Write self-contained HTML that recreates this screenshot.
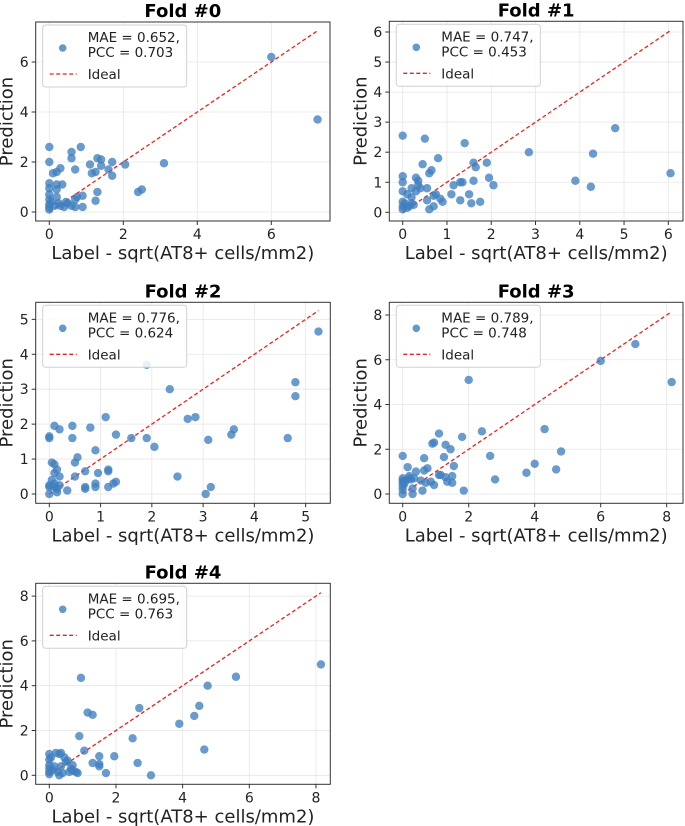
<!DOCTYPE html>
<html><head><meta charset="utf-8"><style>
body{margin:0;background:#fff;}
svg{display:block;font-family:"DejaVu Sans","Liberation Sans",sans-serif;}
</style></head><body>
<svg id="chart" width="685" height="826" viewBox="0 0 685 826" xmlns="http://www.w3.org/2000/svg"></svg>
<script>
const fold0X=[0,0,0,0,0,0,0,0,0,0.05,0.1,0.2,0.3,0.2,0.35,0.2,0.2,0.3,0.4,0.5,0.6,0.6,0.85,0.7,0.6,0.7,0.7,0.75,0.9,0.9,1.1,1.15,1.25,1.3,1.4,1.4,1.6,1.7,1.7,2.05,1.3,1.25,2.4,2.5,3.1,6.0,7.25,0.15,0.25,0.45];
const fold0Y=[2.6,2.0,1.15,0.95,0.7,0.5,0.3,0.2,0.1,0.4,1.55,1.6,1.75,1.1,1.1,0.9,0.6,0.25,0.2,0.35,2.4,2.15,2.6,1.7,0.25,0.2,0.5,0.6,0.65,0.2,1.9,1.55,1.6,2.15,2.1,1.85,1.7,2.0,1.45,1.9,0.8,0.45,0.8,0.9,1.95,6.2,3.7,0.25,0.35,0.4];
const fold1X=[0,0,0,0,0,0,0,0.05,0.1,0.1,0.2,0.2,0.2,0.3,0.35,0.35,0.3,0.4,0.45,0.5,0.55,0.55,0.6,0.6,0.65,0.7,0.7,0.75,0.8,0.85,0.9,1.1,1.15,1.3,1.35,1.3,1.4,1.5,1.55,1.6,1.6,1.65,1.75,1.9,1.95,2.05,2.85,3.9,4.25,4.3,4.8,6.05,0.15,0.25];
const fold1Y=[2.55,1.2,1.0,0.7,0.35,0.2,0.1,0.3,0.15,0.6,0.8,0.5,0.3,1.15,1.05,0.9,0.7,0.8,1.6,2.45,0.8,0.4,0.1,1.3,1.4,0.2,0.55,0.6,1.8,0.45,0.35,0.6,0.9,1.0,1.0,0.4,2.3,0.6,0.3,1.05,1.65,1.5,0.35,1.65,1.15,0.9,2.0,1.05,0.85,1.95,2.8,1.3,0.2,0.25];
const fold2X=[0,0,0,0,0,0.05,0.1,0.1,0.1,0.1,0.15,0.2,0.2,0.15,0.1,0.15,0.2,0.05,0.35,0.45,0.45,0.5,0.5,0.55,0.7,0.7,0.7,0.8,0.9,0.9,0.9,0.95,1.1,1.15,1.15,1.15,1.25,1.3,1.3,1.6,1.9,1.9,2.05,2.35,2.5,2.7,2.85,3.05,3.1,3.15,3.55,3.6,4.65,4.8,4.8,5.25];
const fold2Y=[1.65,1.6,0.25,0.2,0.0,0.9,1.95,0.85,0.6,0.3,0.7,1.85,0.5,0.05,0.2,0.15,0.25,0.4,0.1,1.6,1.95,0.9,0.5,1.05,0.65,0.2,0.15,1.9,1.25,0.3,0.2,0.6,2.2,0.7,0.65,0.2,0.3,1.7,0.35,1.6,1.6,3.7,1.35,3.0,0.5,2.15,2.2,0.0,1.55,0.2,1.7,1.85,1.6,3.2,2.8,4.65];
const fold3X=[0,0,0,0,0,0,0,0.05,0.1,0.15,0.2,0.2,0.25,0.3,0.3,0.35,0.4,0.55,0.6,0.65,0.65,0.7,0.75,0.85,0.9,0.95,0.95,1.1,1.1,1.15,1.25,1.3,1.3,1.35,1.45,1.5,1.5,1.55,1.8,1.85,2.0,2.4,2.65,2.8,3.75,4.0,4.3,4.65,4.8,6.0,7.05,8.15];
const fold3Y=[1.7,0.7,0.6,0.5,0.35,0.2,0.0,0.45,0.6,1.2,0.7,0.8,0.65,0.25,0.0,0.7,1.0,0.6,0.15,1.6,1.05,0.5,1.15,0.55,2.25,2.3,0.4,2.7,0.85,0.85,1.65,2.2,0.75,0.55,2.0,0.8,0.5,1.25,2.55,0.15,5.1,2.8,1.7,0.65,0.95,1.35,2.9,1.1,1.9,5.95,6.7,5.0];
const fold4X=[0,0,0,0,0,0,0.05,0.1,0.15,0.2,0.25,0.3,0.35,0.35,0.3,0.4,0.45,0.5,0.55,0.6,0.65,0.7,0.7,0.8,0.85,0.9,0.95,1.05,1.15,1.3,1.3,1.5,1.5,1.5,1.7,1.95,2.5,2.65,2.7,3.05,3.9,4.35,4.5,4.65,4.75,5.6,8.15];
const fold4Y=[0.95,0.7,0.45,0.3,0.15,0.05,0.8,0.25,0.4,1.0,0.15,0.95,1.0,0.4,0.0,0.1,0.8,0.6,0.65,0.15,0.3,0.45,0.2,0.15,0.1,1.75,4.35,1.1,2.8,2.7,0.55,0.5,0.4,0.85,0.1,0.85,1.65,0.55,3.0,0.0,2.3,2.65,3.1,1.15,4.0,4.4,4.95];
const foldTitles=["Fold #0","Fold #1","Fold #2","Fold #3","Fold #4"];
const maeValues=["0.652","0.747","0.776","0.789","0.695"];
const pccValues=["0.703","0.453","0.624","0.748","0.763"];
const xTicks0=[0,2,4,6], yTicks0=[0,2,4,6];
const xTicks1=[0,1,2,3,4,5,6], yTicks1=[0,1,2,3,4,5,6];
const xTicks2=[0,1,2,3,4,5], yTicks2=[0,1,2,3,4,5];
const xTicks3=[0,2,4,6,8], yTicks3=[0,2,4,6,8];
const xTicks4=[0,2,4,6,8], yTicks4=[0,2,4,6,8];

const NS="http://www.w3.org/2000/svg";
const svg=document.getElementById('chart');
function mk(tag,attrs,parent){const e=document.createElementNS(NS,tag);for(const k in attrs)e.setAttribute(k,attrs[k]);(parent||svg).appendChild(e);return e;}

const panels=[
 {X:fold0X,Y:fold0Y,xt:xTicks0,yt:yTicks0,box:[35.7,22,330,221],px0:49.3,pxu:37,py0:212,pyu:25},
 {X:fold1X,Y:fold1Y,xt:xTicks1,yt:yTicks1,box:[389.3,21.3,683,221],px0:402.7,pxu:44.27,py0:212.3,pyu:30.05},
 {X:fold2X,Y:fold2Y,xt:xTicks2,yt:yTicks2,box:[35.7,302.3,330.3,503.3],px0:49.3,pxu:51.27,py0:494,pyu:34.93},
 {X:fold3X,Y:fold3Y,xt:xTicks3,yt:yTicks3,box:[389.3,302.3,683,503.3],px0:402.7,pxu:33,py0:494,pyu:22.375},
 {X:fold4X,Y:fold4Y,xt:xTicks4,yt:yTicks4,box:[35.7,583.3,330.3,784.3],px0:49.3,pxu:33.33,py0:775.3,pyu:22.4}
];
panels.forEach((p,i)=>{
 const [L,T,R,B]=p.box;
 const g=mk('g',{});
 
 
 const xs=v=>p.px0+v*p.pxu, ys=v=>p.py0-v*p.pyu;
 p.xt.forEach(t=>{const l=mk('line',{x1:xs(t),x2:xs(t),y1:T,y2:B,stroke:'#e6e6e6','stroke-width':0.8},g);
  });
 p.yt.forEach(t=>{const l=mk('line',{x1:L,x2:R,y1:ys(t),y2:ys(t),stroke:'#e6e6e6','stroke-width':0.8},g);
  });
 const mx=Math.max(...p.X);
 const il=mk('line',{x1:xs(0),y1:ys(0),x2:xs(mx),y2:ys(mx),stroke:'#e8231f','stroke-width':1.3,'stroke-dasharray':'4,2.5'},g);
 
 p.X.forEach((x,j)=>{const c=mk('circle',{cx:xs(x),cy:ys(p.Y[j]),r:4.2,fill:'#3f7fbf','fill-opacity':0.78},g);
  });
 const fr=mk('rect',{x:L,y:T,width:R-L,height:B-T,fill:'none',stroke:'#333','stroke-width':1},g);
 
 p.xt.forEach(t=>{mk('line',{x1:xs(t),x2:xs(t),y1:B,y2:B+4,stroke:'#333'},g);
  const tx=mk('text',{x:xs(t),y:B+18,'text-anchor':'middle','font-size':14,fill:'#222'},g);tx.textContent=t;
  });
 p.yt.forEach(t=>{mk('line',{x1:L-4,x2:L,y1:ys(t),y2:ys(t),stroke:'#333'},g);
  const tx=mk('text',{x:L-7,y:ys(t)+5,'text-anchor':'end','font-size':14,fill:'#222'},g);tx.textContent=t;
  });
 const ti=mk('text',{x:(L+R)/2,y:T-5,'text-anchor':'middle','font-size':18,'font-weight':'bold',fill:'#000'},g);
 ti.textContent=foldTitles[i];
 const xl=mk('text',{x:(L+R)/2,y:B+38,'text-anchor':'middle','font-size':18,fill:'#222'},g);
 xl.textContent='Label - sqrt(AT8+ cells/mm2)';
 const yx=L-23, yc=(T+B)/2;
 const yl=mk('text',{x:yx,y:yc,'text-anchor':'middle','font-size':18,fill:'#222',transform:`rotate(-90 ${yx} ${yc})`},g);
 yl.textContent='Prediction';
 const lg=mk('g',{},g);
 
 const lx=L+7,ly=T+3;
 mk('rect',{x:lx,y:ly,width:144,height:62,rx:3,fill:'#fff','fill-opacity':0.85,stroke:'#d0d0d0'},lg);
 const lc=mk('circle',{cx:lx+20,cy:ly+23,r:3.8,fill:'#3f7fbf','fill-opacity':0.8},lg);
 
 const t1=mk('text',{x:lx+45,y:ly+17,'font-size':13.5,fill:'#222'},lg);t1.textContent='MAE = '+maeValues[i]+',';
 const t2=mk('text',{x:lx+45,y:ly+32,'font-size':13.5,fill:'#222'},lg);t2.textContent='PCC = '+pccValues[i];
 const ll=mk('line',{x1:lx+7,x2:lx+34,y1:ly+49,y2:ly+49,stroke:'#e8231f','stroke-width':1.3,'stroke-dasharray':'4,2.5'},lg);
 
 const t3=mk('text',{x:lx+45,y:ly+54,'font-size':13.5,fill:'#222'},lg);t3.textContent='Ideal';
});
</script>
</body></html>
